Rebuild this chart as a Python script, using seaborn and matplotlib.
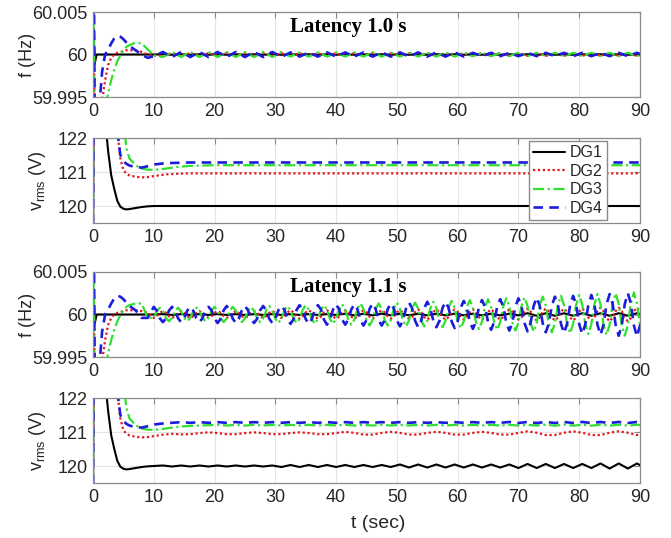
import matplotlib
matplotlib.use("Agg")
import matplotlib.pyplot as plt
import seaborn as sns

# ---------------------------------------------------------------- data
SERIES = ["DG1", "DG2", "DG3", "DG4"]
X_TICKS = [0, 10, 20, 30, 40, 50, 60, 70, 80, 90]
F_TICKS = [59.995, 60.0, 60.005]
F_TICK_LABELS = ["59.995", "60", "60.005"]
V_TICKS = [120, 121, 122]
V_TICK_LABELS = ["120", "121", "122"]
PANEL_TITLES = ["Latency 1.0 s", "Latency 1.1 s"]
F_LABEL = "f (Hz)"
V_LABEL = r"v$_{\mathregular{rms}}$ (V)"
X_LABEL = "t (sec)"

# time samples (s)
T_HEAD = [0, 0.15, 0.3, 0.6, 1, 1.5, 2, 2.5, 3, 3.5, 4, 4.5, 5, 5.5, 6, 7, 8, 9, 10]
T_COARSE_TAIL = [
    11.5, 13, 14.5, 16, 17.5, 19, 20.5, 22, 23.5, 25, 26.5, 28,
    29.5, 31, 32.5, 34, 35.5, 37, 38.5, 40, 41.5, 43, 44.5, 46,
    47.5, 49, 50.5, 52, 53.5, 55, 56.5, 58, 59.5, 61, 62.5, 64,
    65.5, 67, 68.5, 70, 71.5, 73, 74.5, 76, 77.5, 79, 80.5, 82,
    83.5, 85, 86.5, 88, 89.5, 91]
T_FINE_TAIL = [
    10.5, 11, 11.5, 12, 12.5, 13, 13.5, 14, 14.5, 15, 15.5, 16,
    16.5, 17, 17.5, 18, 18.5, 19, 19.5, 20, 20.5, 21, 21.5, 22,
    22.5, 23, 23.5, 24, 24.5, 25, 25.5, 26, 26.5, 27, 27.5, 28,
    28.5, 29, 29.5, 30, 30.5, 31, 31.5, 32, 32.5, 33, 33.5, 34,
    34.5, 35, 35.5, 36, 36.5, 37, 37.5, 38, 38.5, 39, 39.5, 40,
    40.5, 41, 41.5, 42, 42.5, 43, 43.5, 44, 44.5, 45, 45.5, 46,
    46.5, 47, 47.5, 48, 48.5, 49, 49.5, 50, 50.5, 51, 51.5, 52,
    52.5, 53, 53.5, 54, 54.5, 55, 55.5, 56, 56.5, 57, 57.5, 58,
    58.5, 59, 59.5, 60, 60.5, 61, 61.5, 62, 62.5, 63, 63.5, 64,
    64.5, 65, 65.5, 66, 66.5, 67, 67.5, 68, 68.5, 69, 69.5, 70,
    70.5, 71, 71.5, 72, 72.5, 73, 73.5, 74, 74.5, 75, 75.5, 76,
    76.5, 77, 77.5, 78, 78.5, 79, 79.5, 80, 80.5, 81, 81.5, 82,
    82.5, 83, 83.5, 84, 84.5, 85, 85.5, 86, 86.5, 87, 87.5, 88,
    88.5, 89, 89.5, 90, 90.5, 91]
T_SPARSE_TAIL = [12, 14, 16, 20, 30, 40, 50, 60, 70, 80, 90]

T_COARSE = T_HEAD + T_COARSE_TAIL
T_FINE = T_HEAD + T_FINE_TAIL
T_SPARSE = T_HEAD + T_SPARSE_TAIL

# ---- Latency 1.0 s, frequency (Hz)
F10_DG1 = [60.0, 60.0015, 59.999, 60.0, 60.0, 60.0, 60.0, 60.0, 60.0, 60.0,
           60.0, 60.0, 60.0, 60.0, 60.0, 60.0, 60.0, 60.0, 60.0,
           60.00003, 59.99997, 60.00003, 59.99997, 60.00003, 59.99997, 60.00003, 59.99997, 60.00003, 59.99997, 60.00003, 59.99997,
           60.00003, 59.99997, 60.00003, 59.99997, 60.00003, 59.99997, 60.00003, 59.99997, 60.00003, 59.99997, 60.00003, 59.99997,
           60.00003, 59.99997, 60.00003, 59.99997, 60.00003, 59.99997, 60.00003, 59.99997, 60.00003, 59.99997, 60.00003, 59.99997,
           60.00003, 59.99997, 60.00003, 59.99997, 60.00003, 59.99997, 60.00003, 59.99997, 60.00003, 59.99997, 60.00003, 59.99997,
           60.00003, 59.99997, 60.00003, 59.99997, 60.00003, 59.99997]
F10_DG2 = [60.0, 60.0, 59.992, 59.99, 59.991, 59.9945, 59.997, 59.9988, 59.9996, 60.0,
           60.0002, 60.0003, 60.0004, 60.0005, 60.0005, 60.0005, 60.0003, 60.0, 59.9999,
           59.99985, 60.00015, 59.99985, 60.00015, 59.99985, 60.00015, 59.99985, 60.00015, 59.99985, 60.00015, 59.99985, 60.00015,
           59.99985, 60.00015, 59.99985, 60.00015, 59.99985, 60.00015, 59.99985, 60.00015, 59.99985, 60.00015, 59.99985, 60.00015,
           59.99985, 60.00015, 59.99985, 60.00015, 59.99985, 60.00015, 59.99985, 60.00015, 59.99985, 60.00015, 59.99985, 60.00015,
           59.99985, 60.00015, 59.99985, 60.00015, 59.99985, 60.00015, 59.99985, 60.00015, 59.99985, 60.00015, 59.99985, 60.00015,
           59.99985, 60.00015, 59.99985, 60.00015, 59.99985, 60.00015]
F10_DG3 = [60.0, 60.006, 59.99, 59.985, 59.986, 59.989, 59.9935, 59.9955, 59.997, 59.9982,
           59.9992, 59.9999, 60.0005, 60.0009, 60.0011, 60.0014, 60.0013, 60.0006, 59.9999,
           59.9997, 60.0003, 59.9997, 60.0003, 59.9997, 60.0003, 59.9997, 60.0003, 59.9997, 60.0003, 59.9997, 60.0003,
           59.9997, 60.0003, 59.99975, 60.00025, 59.99975, 60.00025, 59.99975, 60.00025, 59.99975, 60.00025, 59.99975, 60.00025,
           59.99975, 60.00025, 59.99975, 60.00025, 59.99975, 60.00025, 59.99975, 60.00025, 59.99975, 60.00025, 59.9998, 60.0002,
           59.9998, 60.0002, 59.9998, 60.0002, 59.9998, 60.0002, 59.9998, 60.0002, 59.9998, 60.0002, 59.9998, 60.0002,
           59.9998, 60.0002, 59.9998, 60.0002, 59.9998, 60.0002]
F10_DG4 = [60.0, 60.008, 59.99, 59.988, 59.9935, 59.998, 60.0, 60.0006, 60.0013, 60.0019,
           60.0022, 60.0021, 60.0018, 60.0014, 60.001, 60.0005, 60.0, 59.9996, 59.9998,
           60.0003, 59.9997, 60.0003, 59.9997, 60.0003, 59.9997, 60.0003, 59.9997, 60.0003, 59.9997, 60.0003, 59.9997,
           60.0003, 59.9997, 60.00025, 59.99975, 60.00025, 59.99975, 60.00025, 59.99975, 60.00025, 59.99975, 60.00025, 59.99975,
           60.00025, 59.99975, 60.00025, 59.99975, 60.00025, 59.99975, 60.00025, 59.99975, 60.00025, 59.99975, 60.0002, 59.9998,
           60.0002, 59.9998, 60.0002, 59.9998, 60.0002, 59.9998, 60.0002, 59.9998, 60.0002, 59.9998, 60.0002, 59.9998,
           60.0002, 59.9998, 60.0002, 59.9998, 60.0002, 59.9998]

# ---- Latency 1.1 s, frequency (Hz)
F11_DG1 = [60.0, 60.0015, 59.999, 60.0, 60.0, 60.0, 60.0, 60.0, 60.0, 60.0,
           60.0, 60.0, 60.0, 60.0, 60.0, 60.0, 60.0, 60.0, 60.0,
           60.00005, 59.99995, 60.00005, 59.99995, 60.00005, 59.99995, 60.00005, 59.99995, 60.00005, 59.99995, 60.00005, 59.99995,
           60.00005, 59.99995, 60.00005, 59.99995, 60.00005, 59.99995, 60.00005, 59.99995, 60.0001, 59.9999, 60.0001, 59.9999,
           60.0001, 59.9999, 60.0001, 59.9999, 60.0001, 59.9999, 60.0001, 59.9999, 60.0001, 59.9999, 60.0001, 59.9999,
           60.0001, 59.9999, 60.0001, 59.9999, 60.00015, 59.99985, 60.00015, 59.99985, 60.00015, 59.99985, 60.00015, 59.99985,
           60.00015, 59.99985, 60.00015, 59.99985, 60.00015, 59.99985]
F11_DG2 = [60.0, 60.0, 59.992, 59.99, 59.991, 59.9945, 59.997, 59.9988, 59.9996, 60.0,
           60.0002, 60.0003, 60.0004, 60.0005, 60.0005, 60.0005, 60.0004, 60.0002, 59.9996,
           59.9998, 60.0002, 60.0004, 60.0002, 59.9998, 59.9996, 59.9998, 60.0002, 60.0004, 60.0002, 59.9998, 59.9996,
           59.9998, 60.0002, 60.0004, 60.0002, 59.9998, 59.9996, 59.9998, 60.0002, 60.0004, 60.0002, 59.9998, 59.9996,
           59.9998, 60.0002, 60.0004, 60.0002, 59.9998, 59.9996, 59.9998, 60.0002, 60.0004, 60.0002, 59.9998, 59.9996,
           59.9998, 60.0002, 60.0004, 60.0002, 59.9998, 59.9996, 59.99975, 60.00025, 60.0005, 60.00025, 59.99975, 59.9995,
           59.99975, 60.00025, 60.0005, 60.00025, 59.99975, 59.9995, 59.99975, 60.00025, 60.0005, 60.00025, 59.99975, 59.9995,
           59.99975, 60.00025, 60.0005, 60.00025, 59.99975, 59.9995, 59.99975, 60.00025, 60.0005, 60.00025, 59.99975, 59.9995,
           59.99975, 60.00025, 60.0005, 60.00025, 59.99975, 59.9995, 59.99975, 60.00025, 60.0005, 60.00025, 59.99975, 59.9995,
           59.9997, 60.0003, 60.0006, 60.0003, 59.9997, 59.9994, 59.9997, 60.0003, 60.0006, 60.0003, 59.9997, 59.9994,
           59.9997, 60.0003, 60.0006, 60.0003, 59.9997, 59.9994, 59.9997, 60.0003, 60.0006, 60.0003, 59.9997, 59.9994,
           59.9997, 60.0003, 60.0006, 60.0003, 59.9997, 59.9994, 59.9997, 60.0003, 60.0006, 60.0003, 59.9997, 59.9994,
           59.99965, 60.00035, 60.0007, 60.00035, 59.99965, 59.9993, 59.99965, 60.00035, 60.0007, 60.00035, 59.99965, 59.9993,
           59.99965, 60.00035, 60.0007, 60.00035, 59.99965, 59.9993, 59.99965, 60.00035, 60.0007, 60.00035, 59.99965, 59.9993,
           59.9996, 60.0004, 60.0008, 60.0004, 59.9996, 59.9992, 59.9996, 60.0004, 60.0008, 60.0004, 59.9996, 59.9992,
           59.9996, 60.0004, 60.0008, 60.0004, 59.9996, 59.9992]
F11_DG3 = [60.0, 60.006, 59.99, 59.985, 59.986, 59.989, 59.9935, 59.9955, 59.997, 59.9982,
           59.9992, 59.9999, 60.0005, 60.0009, 60.0011, 60.0013, 60.0013, 59.9996, 59.9996,
           60.0004, 60.0008, 60.0004, 59.9996, 59.9992, 59.9996, 60.0004, 60.0008, 60.0004, 59.9996, 59.9992, 59.9996,
           60.0004, 60.0008, 60.0004, 59.9996, 59.9992, 59.9996, 60.00045, 60.0009, 60.00045, 59.99955, 59.9991, 59.99955,
           60.00045, 60.0009, 60.00045, 59.99955, 59.9991, 59.99955, 60.00045, 60.0009, 60.00045, 59.99955, 59.9991, 59.99955,
           60.0005, 60.001, 60.0005, 59.9995, 59.999, 59.9995, 60.0005, 60.001, 60.0005, 59.9995, 59.999, 59.9995,
           60.00055, 60.0011, 60.00055, 59.99945, 59.9989, 59.99945, 60.00055, 60.0011, 60.00055, 59.99945, 59.9989, 59.99945,
           60.0006, 60.0012, 60.0006, 59.9994, 59.9988, 59.9994, 60.00065, 60.0013, 60.00065, 59.99935, 59.9987, 59.99935,
           60.00065, 60.0013, 60.00065, 59.99935, 59.9987, 59.99935, 60.0007, 60.0014, 60.0007, 59.9993, 59.9986, 59.9993,
           60.0007, 60.0014, 60.0007, 59.9993, 59.9986, 59.9993, 60.00075, 60.0015, 60.00075, 59.99925, 59.9985, 59.99925,
           60.0008, 60.0016, 60.0008, 59.9992, 59.9984, 59.9992, 60.00085, 60.0017, 60.00085, 59.99915, 59.9983, 59.99915,
           60.0009, 60.0018, 60.0009, 59.9991, 59.9982, 59.9991, 60.00095, 60.0019, 60.00095, 59.99905, 59.9981, 59.99905,
           60.001, 60.002, 60.001, 59.999, 59.998, 59.999, 60.00105, 60.0021, 60.00105, 59.99895, 59.9979, 59.99895,
           60.0011, 60.0022, 60.0011, 59.9989, 59.9978, 59.9989, 60.00115, 60.0023, 60.00115, 59.99885, 59.9977, 59.99885,
           60.0012, 60.0024, 60.0012, 59.9988, 59.9976, 59.9988, 60.00125, 60.0025, 60.00125, 59.99875, 59.9975, 59.99875,
           60.0013, 60.0026, 60.0013, 59.9987, 59.9974, 59.9987]
F11_DG4 = [60.0, 60.008, 59.99, 59.988, 59.9935, 59.998, 60.0, 60.0006, 60.0013, 60.0019,
           60.0022, 60.0021, 60.0018, 60.0014, 60.001, 60.0005, 59.9996, 59.9996, 60.0009,
           60.00045, 59.99955, 59.9991, 59.99955, 60.00045, 60.0009, 60.00045, 59.99955, 59.9991, 59.99955, 60.00045, 60.0009,
           60.00045, 59.99955, 59.9991, 59.99955, 60.00045, 60.0009, 60.0005, 59.9995, 59.999, 59.9995, 60.0005, 60.001,
           60.0005, 59.9995, 59.999, 59.9995, 60.0005, 60.001, 60.0005, 59.9995, 59.999, 59.9995, 60.0005, 60.001,
           60.0005, 59.9995, 59.999, 59.9995, 60.0005, 60.001, 60.00055, 59.99945, 59.9989, 59.99945, 60.00055, 60.0011,
           60.00055, 59.99945, 59.9989, 59.99945, 60.00055, 60.0011, 60.0006, 59.9994, 59.9988, 59.9994, 60.0006, 60.0012,
           60.0006, 59.9994, 59.9988, 59.9994, 60.0006, 60.0012, 60.00065, 59.99935, 59.9987, 59.99935, 60.00065, 60.0013,
           60.00065, 59.99935, 59.9987, 59.99935, 60.00065, 60.0013, 60.0007, 59.9993, 59.9986, 59.9993, 60.0007, 60.0014,
           60.00075, 59.99925, 59.9985, 59.99925, 60.00075, 60.0015, 60.00075, 59.99925, 59.9985, 59.99925, 60.00075, 60.0015,
           60.0008, 59.9992, 59.9984, 59.9992, 60.0008, 60.0016, 60.00085, 59.99915, 59.9983, 59.99915, 60.00085, 60.0017,
           60.0009, 59.9991, 59.9982, 59.9991, 60.0009, 60.0018, 60.00095, 59.99905, 59.9981, 59.99905, 60.00095, 60.0019,
           60.001, 59.999, 59.998, 59.999, 60.001, 60.002, 60.00105, 59.99895, 59.9979, 59.99895, 60.00105, 60.0021,
           60.0011, 59.9989, 59.9978, 59.9989, 60.0011, 60.0022, 60.00115, 59.99885, 59.9977, 59.99885, 60.00115, 60.0023,
           60.0012, 59.9988, 59.9976, 59.9988, 60.0012, 60.0024, 60.00125, 59.99875, 59.9975, 59.99875, 60.00125, 60.0025,
           60.0013, 59.9987, 59.9974, 59.9987, 60.0013, 60.0026]

# ---- voltage start-up transients (first 10 s, V)
V_HEAD_DG1 = [119.0, 126.0, 126.0, 126.0, 125.0, 123.8, 122.5, 121.6, 120.9, 120.5,
              120.15, 119.98, 119.92, 119.9, 119.91, 119.94, 119.97, 119.99, 120.0]
V_HEAD_DG2 = [119.0, 126.0, 126.0, 126.0, 126.0, 126.0, 126.0, 125.8, 125.3, 124.2,
              122.2, 121.4, 121.05, 120.95, 120.9, 120.86, 120.84, 120.85, 120.88]
V_HEAD_DG3 = [119.0, 126.0, 126.0, 126.0, 126.0, 126.0, 126.0, 126.0, 126.0, 125.8,
              125.2, 124.0, 122.5, 121.7, 121.4, 121.2, 121.1, 121.07, 121.06]
V_HEAD_DG4 = [119.0, 126.0, 126.0, 126.0, 126.0, 126.0, 126.0, 125.8, 125.2, 124.0,
              122.2, 121.5, 121.32, 121.24, 121.19, 121.14, 121.13, 121.17, 121.22]

# ---- Latency 1.0 s, voltage after 10 s (sparse samples)
V10_DG1_TAIL = [120.0, 120.0, 120.0, 120.0, 120.0, 120.0, 120.0, 120.0, 120.0, 120.0, 120.0]
V10_DG2_TAIL = [120.93, 120.95, 120.96, 120.96, 120.96, 120.96, 120.96, 120.96, 120.96, 120.96, 120.96]
V10_DG3_TAIL = [121.1, 121.15, 121.18, 121.2, 121.2, 121.2, 121.2, 121.2, 121.2, 121.2, 121.2]
V10_DG4_TAIL = [121.26, 121.27, 121.28, 121.28, 121.28, 121.28, 121.28, 121.28, 121.28, 121.28, 121.28]

# ---- Latency 1.1 s, voltage after 10 s (coarse samples)
V11_DG1_TAIL = [120.015, 119.985, 120.015, 119.985, 120.015, 119.985, 120.015, 119.985, 120.015, 119.985, 120.015, 119.985,
                120.015, 119.97, 120.03, 119.97, 120.03, 119.97, 120.03, 119.97, 120.03, 119.97, 120.03, 119.97,
                120.03, 119.97, 120.045, 119.955, 120.045, 119.955, 120.045, 119.955, 120.045, 119.955, 120.045, 119.955,
                120.045, 119.955, 120.045, 119.94, 120.06, 119.94, 120.06, 119.94, 120.06, 119.94, 120.06, 119.94,
                120.075, 119.925, 120.075, 119.925, 120.075, 119.925]
V11_DG2_TAIL = [120.92, 120.945, 120.93, 120.935, 120.969,
                120.99, 120.969, 120.936, 120.936, 120.969,
                120.99, 120.969, 120.936, 120.936, 120.969,
                120.99, 120.969, 120.936, 120.936, 120.969,
                121.005, 120.974, 120.924, 120.924, 120.974,
                121.005, 120.974, 120.924, 120.924, 120.974,
                121.005, 120.974, 120.924, 120.924, 120.974,
                121.005, 120.974, 120.924, 120.924, 120.974,
                121.02, 120.979, 120.911, 120.911, 120.979,
                121.02, 120.979, 120.911, 120.911, 120.979,
                121.02, 120.979, 120.911, 120.911]
V11_DG3_TAIL = [121.09, 121.13, 121.16, 121.18, 121.19, 121.2,
                121.21, 121.19, 121.21, 121.19, 121.21, 121.19, 121.21, 121.19, 121.21, 121.19, 121.21, 121.19,
                121.21, 121.19, 121.21, 121.19, 121.21, 121.19, 121.21, 121.19, 121.21, 121.19, 121.21, 121.19,
                121.21, 121.19, 121.21, 121.19, 121.21, 121.19, 121.21, 121.19, 121.21, 121.19, 121.21, 121.19,
                121.215, 121.185, 121.215, 121.185, 121.215, 121.185, 121.215, 121.185, 121.215, 121.185, 121.215, 121.185]
V11_DG4_TAIL = [121.25, 121.27,
                121.29, 121.27, 121.29, 121.27, 121.29, 121.27, 121.29, 121.27, 121.29, 121.27, 121.29, 121.27,
                121.29, 121.27, 121.29, 121.27, 121.29, 121.27, 121.29, 121.27, 121.29, 121.27, 121.29, 121.27,
                121.29, 121.27, 121.29, 121.27, 121.29, 121.27, 121.29, 121.27, 121.29, 121.27, 121.29, 121.27,
                121.295, 121.265, 121.295, 121.265, 121.295, 121.265, 121.295, 121.265, 121.295, 121.265, 121.295, 121.265,
                121.295, 121.265, 121.295, 121.265]

V10 = {"DG1": V_HEAD_DG1 + V10_DG1_TAIL, "DG2": V_HEAD_DG2 + V10_DG2_TAIL,
       "DG3": V_HEAD_DG3 + V10_DG3_TAIL, "DG4": V_HEAD_DG4 + V10_DG4_TAIL}
V11 = {"DG1": V_HEAD_DG1 + V11_DG1_TAIL, "DG2": V_HEAD_DG2 + V11_DG2_TAIL,
       "DG3": V_HEAD_DG3 + V11_DG3_TAIL, "DG4": V_HEAD_DG4 + V11_DG4_TAIL}

# ---------------------------------------------------------------- style
STYLE = {
    "DG1": dict(color="#000000", linestyle="-", linewidth=1.5),
    "DG2": dict(color="#e3161c", linestyle=(0, (1.0, 1.2)), linewidth=1.6),
    "DG3": dict(color="#2fe02f", linestyle=(0, (5.0, 1.6, 1.0, 1.6)), linewidth=1.6),
    "DG4": dict(color="#1c1cdc", linestyle=(0, (3.6, 2.4)), linewidth=1.9),
}
FRAME = "#8a8a8a"

sns.set_theme(style="white")
plt.rcParams["font.family"] = ["Liberation Sans", "DejaVu Sans"]
plt.rcParams["mathtext.fontset"] = "custom"
plt.rcParams["mathtext.rm"] = "Liberation Sans"

fig = plt.figure(figsize=(6.71, 5.38), dpi=100)
W_PX, H_PX = 671, 538
LEFT, RIGHT = 93, 640
TOPS = [12, 138, 272, 398]
PANEL_H = 85
axes = [fig.add_axes([LEFT / W_PX, 1 - (t + PANEL_H) / H_PX,
                      (RIGHT - LEFT) / W_PX, PANEL_H / H_PX]) for t in TOPS]

panels = [
    (axes[0], [("DG1", T_COARSE, F10_DG1), ("DG2", T_COARSE, F10_DG2),
               ("DG3", T_COARSE, F10_DG3), ("DG4", T_COARSE, F10_DG4)]),
    (axes[1], [(s, T_SPARSE, V10[s]) for s in SERIES]),
    (axes[2], [("DG1", T_COARSE, F11_DG1), ("DG2", T_FINE, F11_DG2),
               ("DG3", T_FINE, F11_DG3), ("DG4", T_FINE, F11_DG4)]),
    (axes[3], [(s, T_COARSE, V11[s]) for s in SERIES]),
]

for ax, lines in panels:
    for name, t, y in lines:
        sns.lineplot(x=t, y=y, ax=ax, estimator=None, sort=False,
                     legend=False, label=name, **STYLE[name])

for i, ax in enumerate(axes):
    ax.set_xlim(0, 90)
    ax.set_xticks(X_TICKS)
    ax.set_xticklabels([str(v) for v in X_TICKS])
    if i in (0, 2):
        ax.set_ylim(F_TICKS[0], F_TICKS[-1])
        ax.set_yticks(F_TICKS)
        ax.set_yticklabels(F_TICK_LABELS)
    else:
        ax.set_ylim(119.5, 122)
        ax.set_yticks(V_TICKS)
        ax.set_yticklabels(V_TICK_LABELS)
    ax.set_xlabel("")
    ax.set_ylabel("")
    ax.grid(True, color="#e4e4e4", linewidth=0.8)
    ax.set_axisbelow(True)
    for sp in ax.spines.values():
        sp.set_color(FRAME)
        sp.set_linewidth(0.9)
    ax.tick_params(direction="in", top=True, right=True, length=4, width=0.8,
                   color=FRAME, labelcolor="#262626", labelsize=13, pad=4)

# panel titles
for ax, title in zip([axes[0], axes[2]], PANEL_TITLES):
    ax.text(0.36, 0.765, title, transform=ax.transAxes, ha="left", va="baseline",
            fontsize=15, fontweight="bold",
            family=["Liberation Serif", "DejaVu Serif"], color="black")

# legend
handles = axes[1].get_lines()[:4]
axes[1].legend(handles, SERIES, loc="center right", bbox_to_anchor=(0.94, 0.5),
               frameon=True, fancybox=False, edgecolor=FRAME, framealpha=1,
               fontsize=11.5, handlelength=2.0, handletextpad=0.3,
               labelspacing=0.22, borderpad=0.25, borderaxespad=0)

# axis labels
for t, lab, xpx in [(TOPS[0], F_LABEL, 27), (TOPS[1], V_LABEL, 37),
                    (TOPS[2], F_LABEL, 27), (TOPS[3], V_LABEL, 37)]:
    fig.text(xpx / W_PX, 1 - (t + PANEL_H / 2) / H_PX, lab, rotation=90,
             ha="center", va="center", fontsize=13, color="#262626")
fig.text(378 / W_PX, 1 - 523 / H_PX, X_LABEL, ha="center", va="center",
         fontsize=14, color="#262626")

fig.savefig("out.png", dpi=100)
